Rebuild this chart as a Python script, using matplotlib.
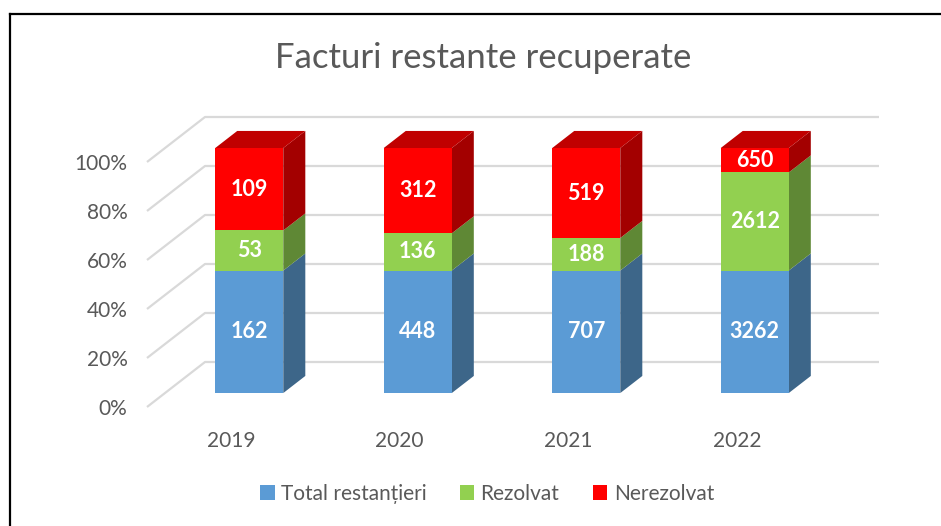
import matplotlib.pyplot as plt
from matplotlib.patches import Polygon, Patch
from matplotlib.lines import Line2D
import numpy as np

years = ["2019", "2020", "2021", "2022"]
total_restantieri = [162, 448, 707, 3262]
rezolvat = [53, 136, 188, 2612]
nerezolvat = [109, 312, 519, 650]

series_names = ["Total restanțieri", "Rezolvat", "Nerezolvat"]
front_colors = ["#5B9BD5", "#92D050", "#FF0000"]
side_colors = ["#3D6689", "#5F8835", "#A30000"]
top_colors = ["#4A80B0", "#78AA42", "#C00000"]
y_ticks = [0, 20, 40, 60, 80, 100]

plt.rcParams["font.family"] = ["Lato", "DejaVu Sans"]
TEXT = "#595959"
GRID = "#D9D9D9"

W, H = 941, 526
fig = plt.figure(figsize=(W / 100, H / 100), dpi=100)
fig.patch.set_facecolor("white")

# front plane of the fake 3D plot area
ax = fig.add_axes([147 / W, (H - 407) / H, 674 / W, 245 / H])
ax.set_xlim(0, 4)
ax.set_ylim(0, 100)
ax.patch.set_visible(False)
for sp in ax.spines.values():
    sp.set_visible(False)

# oblique depth offset for the full floor depth (data units)
DX = 58 / (674 / 4)
DY = 45 / 2.45


def proj(x, y, d):
    return (x + d * DX, y + d * DY)


# gridlines: side wall diagonals + back wall horizontals
for v in y_ticks:
    pts = [proj(0, v, 0), proj(0, v, 1), proj(4, v, 1)]
    ax.plot([p[0] for p in pts], [p[1] for p in pts], color=GRID, lw=1.6,
            clip_on=False, zorder=1, solid_capstyle="butt")

data = np.array([total_restantieri, rezolvat, nerezolvat], dtype=float)
shares = data / data.sum(axis=0) * 100

bar_w = 0.404
d0, d1 = 0.31, 0.69
for i in range(len(years)):
    x0 = i + 0.5 - bar_w / 2
    x1 = i + 0.5 + bar_w / 2
    b = 0
    for s in range(3):
        h = shares[s, i]
        t = b + h
        front = [proj(x0, b, d0), proj(x1, b, d0), proj(x1, t, d0), proj(x0, t, d0)]
        side = [proj(x1, b, d0), proj(x1, b, d1), proj(x1, t, d1), proj(x1, t, d0)]
        ax.add_patch(Polygon(side, closed=True, fc=side_colors[s], ec="none",
                             clip_on=False, zorder=2))
        ax.add_patch(Polygon(front, closed=True, fc=front_colors[s], ec="none",
                             clip_on=False, zorder=3))
        if s == 2:
            top = [proj(x0, t, d0), proj(x1, t, d0), proj(x1, t, d1), proj(x0, t, d1)]
            ax.add_patch(Polygon(top, closed=True, fc=top_colors[s], ec="none",
                                 clip_on=False, zorder=2))
        lx, ly = proj(i + 0.5, b + h / 2, d0)
        ax.text(lx, ly, f"{int(data[s, i])}", ha="center", va="center",
                color="white", fontsize=15.5, fontweight="bold", zorder=4)
        b = t

ax.set_yticks(y_ticks)
ax.set_yticklabels([f"{v}%" for v in y_ticks])
ax.set_xticks(np.arange(len(years)) + 0.5)
ax.set_xticklabels(years)
ax.tick_params(axis="y", length=0, pad=14, labelsize=15, labelcolor=TEXT)
ax.tick_params(axis="x", length=0, pad=17, labelsize=15, labelcolor=TEXT)

fig.text(483 / W, 1 - 58 / H, "Facturi restante recuperate", ha="center",
         va="center", fontsize=25, color=TEXT, fontweight="normal")

handles = [Patch(facecolor=c, edgecolor="none", label=n)
           for c, n in zip(front_colors, series_names)]
fig.legend(handles=handles, loc="center", bbox_to_anchor=(487 / W, 32 / H),
           ncol=3, frameon=False, fontsize=15, labelcolor=TEXT,
           handlelength=0.7, handleheight=0.7, handletextpad=0.3,
           columnspacing=1.6)

# chart border (cut off at right and bottom)
fig.add_artist(Line2D([9.5 / W, 1], [1 - 13.5 / H, 1 - 13.5 / H],
                      transform=fig.transFigure, color="black", lw=1.6))
fig.add_artist(Line2D([9.5 / W, 9.5 / W], [0, 1 - 13.5 / H],
                      transform=fig.transFigure, color="black", lw=1.6))

fig.savefig("out.png", dpi=100, facecolor="white")
